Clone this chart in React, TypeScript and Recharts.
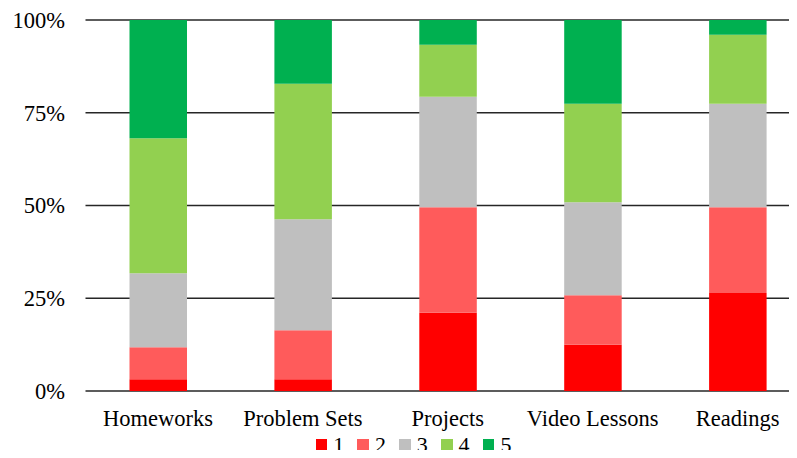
import { BarChart, Bar, XAxis, YAxis, CartesianGrid } from "recharts";

const categories = ["Homeworks", "Problem Sets", "Projects", "Video Lessons", "Readings"];
const level1 = [3.2, 3.2, 21.1, 12.5, 26.4];
const level2 = [8.6, 13.2, 28.4, 13.3, 23.1];
const level3 = [20.0, 29.9, 29.8, 25.1, 27.9];
const level4 = [36.4, 36.5, 14.0, 26.5, 18.6];
const level5 = [31.9, 17.2, 6.7, 22.6, 4.0];
const yTicks = [0, 0.25, 0.5, 0.75, 1];

const seriesNames = ["1", "2", "3", "4", "5"];
const colors = ["#FF0000", "#FF5B5B", "#BFBFBF", "#92D050", "#00B050"];

const data = categories.map((name, i) => ({
  name,
  "1": level1[i],
  "2": level2[i],
  "3": level3[i],
  "4": level4[i],
  "5": level5[i],
}));

const font = "Liberation Serif";

export default function App() {
  return (
    <div
      style={{
        margin: -8,
        width: 797,
        height: 458,
        overflow: "hidden",
        position: "relative",
        background: "#fff",
        fontFamily: font,
      }}
    >
      <BarChart
        width={810}
        height={458}
        data={data}
        stackOffset="expand"
        margin={{ top: 20, right: 0, bottom: 37, left: 0 }}
      >
        <CartesianGrid vertical={false} stroke="#262626" strokeWidth={1.5} />
        <XAxis
          dataKey="name"
          height={30}
          axisLine={false}
          tickLine={false}
          tickMargin={13.4}
          tick={{ fill: "#000", fontSize: 22.5, style: { fontFamily: font } }}
          interval={0}
        />
        <YAxis
          width={85.5}
          domain={[0, 1]}
          ticks={yTicks}
          axisLine={false}
          tickLine={false}
          tickMargin={14.5}
          tickFormatter={(v: number) => `${Math.round(v * 100)}%`}
          tick={{ fill: "#000", fontSize: 22.5, style: { fontFamily: font } }}
        />
        {seriesNames.map((s, i) => (
          <Bar key={s} dataKey={s} stackId="a" fill={colors[i]} barSize={57.5} isAnimationActive={false} />
        ))}
      </BarChart>
      <div
        style={{
          position: "absolute",
          left: 315.7,
          top: 434,
          display: "flex",
          fontSize: 22,
          lineHeight: "22px",
          color: "#000",
          fontFamily: font,
        }}
      >
        {seriesNames.map((s, i) => (
          <div key={s} style={{ width: 41.8, display: "flex", alignItems: "center", height: 22 }}>
            <span style={{ width: 11.5, height: 11.5, background: colors[i], display: "inline-block", marginRight: 6 }} />
            <span>{s}</span>
          </div>
        ))}
      </div>
    </div>
  );
}
